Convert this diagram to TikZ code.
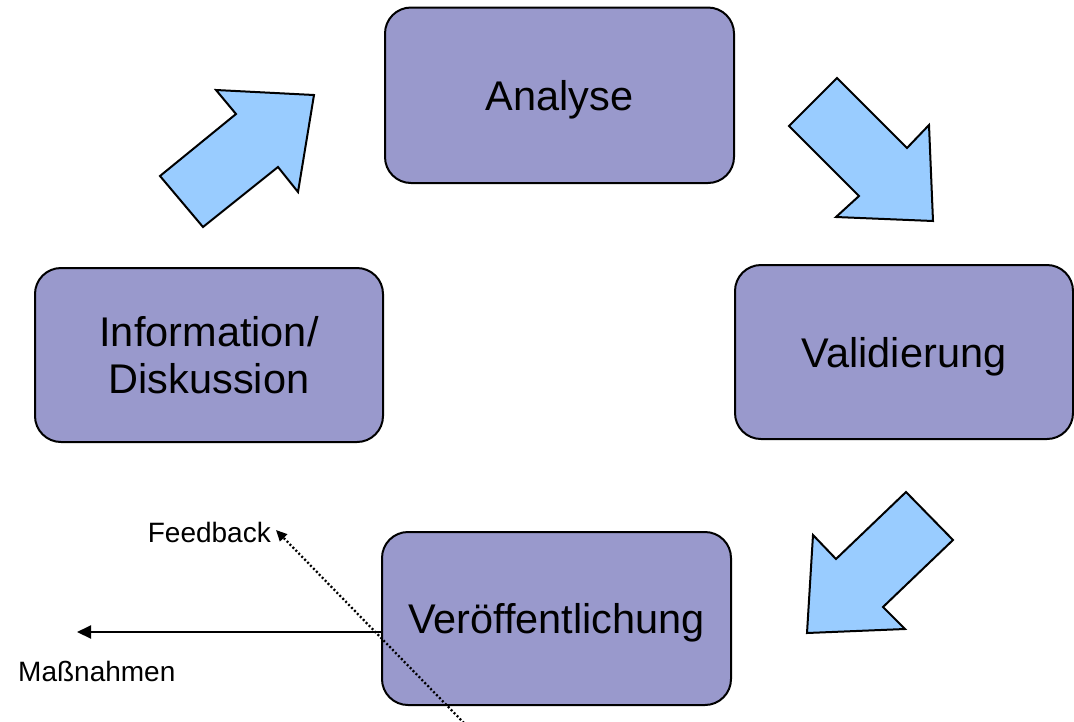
\documentclass[tikz,border=0pt]{standalone}
\usepackage{fontspec}
\setmainfont{Liberation Sans}
\usetikzlibrary{arrows.meta}
\definecolor{boxfill}{HTML}{9999CC}
\definecolor{arrowfill}{HTML}{99CCFF}
\begin{document}
\begin{tikzpicture}[x=1pt,y=-1pt,
  stage/.style={draw=black, line width=2pt, fill=boxfill, rounded corners=26pt,
    inner sep=0pt, font=\fontsize{41.5}{47}\selectfont, align=center},
  oneline/.style={text depth=0pt},
  bigarrow/.style={draw=black, line width=2pt, fill=arrowfill, line join=miter},
  small/.style={font=\fontsize{28}{34}\selectfont, inner sep=0pt},
  outarrow/.style={draw=black, line width=2pt, -{Triangle[length=14pt,width=13pt]}},
  fbarrow/.style={draw=black, line width=2.3pt, dash pattern=on 2pt off 2.2pt,
    -{Triangle[length=11pt,width=10pt]}}]
\useasboundingbox (0,0) rectangle (1074,721);

% stages
\node[stage, oneline, minimum width=349pt, minimum height=175.5pt] (analyse) at (559.5,95.25) {Analyse};
\node[stage, minimum width=348pt, minimum height=174pt] (info) at (209,355) {Information/\\Diskussion};
\node[stage, oneline, minimum width=338pt, minimum height=174pt] (valid) at (904,352) {Validierung};
\node[stage, oneline, minimum width=349pt, minimum height=173pt] (veroeff) at (556.5,618.5) {Ver\"offentlichung};

% big block arrows
\draw[bigarrow] (160,176) -- (236,114) -- (216,90) -- (314,95) -- (298,192) -- (278,167) -- (203,227) -- cycle;
\draw[bigarrow] (789,126) -- (837,78) -- (907,148) -- (929,125) -- (933,221) -- (836,217) -- (859,196) -- cycle;
\draw[bigarrow] (906,492) -- (953,540) -- (883,607) -- (905,629) -- (807,633) -- (813,535) -- (836,559) -- cycle;

% labels
\node[small, anchor=base east] (fb) at (271,542) {Feedback};
\node[small, anchor=base west] (mn) at (18,681) {Ma\ss nahmen};

% outgoing arrows
\coordinate (mtip) at (77,632);
\coordinate (fbtip) at (276,530);
\coordinate (fbstart) at (464,723);
\draw[outarrow] (veroeff.west |- mtip) -- (mtip);
\draw[fbarrow] (fbstart) -- (fbtip);
\end{tikzpicture}
\end{document}
